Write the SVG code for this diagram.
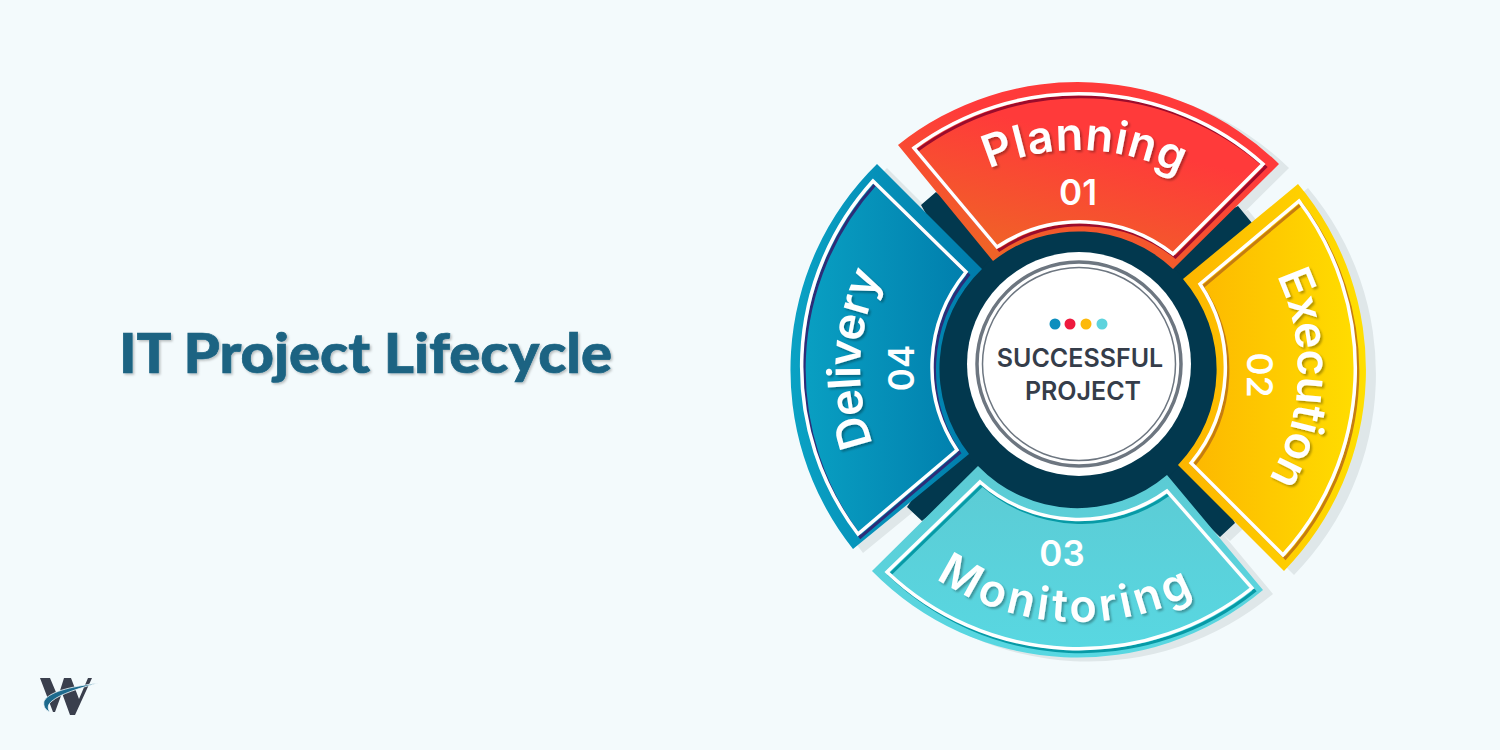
<svg xmlns="http://www.w3.org/2000/svg" width="1500" height="750" viewBox="0 0 1500 750">
<style>
.lab{font-family:"Inter","Noto Sans",sans-serif;font-weight:600;fill:#fff;font-size:45px;filter:url(#ts)}
.num{font-family:"Inter","Noto Sans",sans-serif;font-weight:600;fill:#fff;font-size:35px;text-anchor:middle}
.ctr{font-family:"Inter","Noto Sans",sans-serif;font-weight:600;fill:#353d4a;font-size:25px;text-anchor:middle}
.wl{fill:none;stroke:#fff;stroke-width:3.5;stroke-linejoin:miter}
.sl{fill:none;stroke-width:3;stroke-linejoin:miter}
</style>
<defs>
<filter id="ts" x="-20%" y="-20%" width="140%" height="140%"><feDropShadow dx="2" dy="2" stdDeviation="1.2" flood-color="#000" flood-opacity=".3"/></filter>
<filter id="tt" x="-5%" y="-20%" width="110%" height="140%"><feDropShadow dx="1.5" dy="1.5" stdDeviation="1.2" flood-color="#000" flood-opacity=".25"/></filter>
<linearGradient id="gP" gradientUnits="userSpaceOnUse" x1="1055" y1="262" x2="1085" y2="135"><stop offset="0" stop-color="#f06227"/><stop offset="1" stop-color="#ff3a3a"/></linearGradient>
<linearGradient id="gE" gradientUnits="userSpaceOnUse" x1="1180" y1="380" x2="1366" y2="380"><stop offset="0" stop-color="#fdb500"/><stop offset="1" stop-color="#ffdf00"/></linearGradient>
<linearGradient id="gM" gradientUnits="userSpaceOnUse" x1="1060" y1="470" x2="1060" y2="658"><stop offset="0" stop-color="#5ccbd4"/><stop offset="1" stop-color="#58d8e2"/></linearGradient>
<linearGradient id="gD" gradientUnits="userSpaceOnUse" x1="790" y1="360" x2="975" y2="360"><stop offset="0" stop-color="#0aa2c4"/><stop offset="1" stop-color="#007dac"/></linearGradient>
<path id="sP" d="M898 145A288 288 0 0 1 1279 164L1173 269A138 138 0 0 0 993 261Z"/>
<path id="sE" d="M1298 184A288 288 0 0 1 1284 571L1178 465A138 138 0 0 0 1183 279Z"/>
<path id="sM" d="M1263 590A288 288 0 0 1 872 571L978 466A138 138 0 0 0 1167 475Z"/>
<path id="sD" d="M853 549A288 288 0 0 1 877 164L982 269A138 138 0 0 0 969 454Z"/>
<path id="iP" d="M914 148A277 277 0 0 1 1263 164L1173 254A150 150 0 0 0 997 247Z"/>
<path id="iE" d="M1299 201A277 277 0 0 1 1283 555L1191 463A150 150 0 0 0 1200 284Z"/>
<path id="iM" d="M1252 588A278 278 0 0 1 887 572L980 482A150 150 0 0 0 1167 491Z"/>
<path id="iD" d="M858 534A277 277 0 0 1 873 181L966 272A150 150 0 0 0 957 450Z"/>
<path id="arms" d="M936 192L921 205L975 300L1030 270ZM1238 206L1252 223L1190 290L1150 250ZM1235 523L1220 537L1150 470L1190 440ZM907 507L922 521L1000 460L960 430Z"/>
<path id="tP" d="M858 370A220 220 0 0 1 1298 370"/>
<path id="tE" d="M1078 150A220 220 0 0 1 1078 590"/>
<path id="tM" d="M826 370A252 252 0 0 0 1330 370"/>
<path id="tD" d="M1078 588A218 218 0 0 1 1078 152"/>
</defs>
<rect width="1500" height="750" fill="#f3fafc"/>
<g id="title"><text x="119" y="373" textLength="493" lengthAdjust="spacingAndGlyphs" font-family="Lato,'Noto Sans',sans-serif" font-weight="900" font-size="56" fill="#1b6382" stroke="#1b6382" stroke-width=".7" filter="url(#tt)">IT Project Lifecycle</text></g>
<g id="shadow" fill="#dfe7e9" transform="translate(10 4)">
<use href="#sP"/><use href="#sE"/><use href="#sM"/><use href="#sD"/><use href="#arms"/>
</g>
<g id="hub-ring">
<use href="#arms" fill="#02384e"/>
<circle cx="1078" cy="370" r="140" fill="#02384e"/>
</g>
<g id="planning">
<use href="#sP" fill="url(#gP)"/>
<use href="#iP" class="sl" stroke="#9c0c2c" transform="translate(2.5 3)"/>
<use href="#iP" class="wl"/>
<text class="lab" letter-spacing="1"><textPath href="#tP" startOffset="51%" text-anchor="middle">Planning</textPath></text>
<text class="num" x="1078" y="205">01</text>
</g>
<g id="execution">
<use href="#sE" fill="url(#gE)"/>
<use href="#iE" class="sl" stroke="#c67d10" transform="translate(2.5 3)"/>
<use href="#iE" class="wl"/>
<text class="lab" letter-spacing="-.4"><textPath href="#tE" startOffset="51.2%" text-anchor="middle">Execution</textPath></text>
<text class="num" transform="translate(1247 375) rotate(90)">02</text>
</g>
<g id="monitoring">
<use href="#sM" fill="url(#gM)"/>
<use href="#iM" class="sl" stroke="#079aa6" transform="translate(2.5 3)"/>
<use href="#iM" class="wl"/>
<text class="lab" letter-spacing="3.8"><textPath href="#tM" startOffset="48.3%" text-anchor="middle">Monitoring</textPath></text>
<text class="num" x="1062" y="566">03</text>
</g>
<g id="delivery">
<use href="#sD" fill="url(#gD)"/>
<use href="#iD" class="sl" stroke="#2d2d78" transform="translate(2.5 3)"/>
<use href="#iD" class="wl"/>
<text class="lab" letter-spacing="-1"><textPath href="#tD" startOffset="51.5%" text-anchor="middle">Delivery</textPath></text>
<text class="num" transform="translate(914 368) rotate(-90)">04</text>
</g>
<g id="center">
<circle cx="1079" cy="364" r="112" fill="#fff"/>
<circle cx="1079" cy="364" r="102" fill="none" stroke="#6d7680" stroke-width="3.5"/>
<circle cx="1079" cy="364" r="96.5" fill="none" stroke="#6d7680" stroke-width="1.5"/>
<circle cx="1055" cy="324" r="5.5" fill="#0c8ebe"/>
<circle cx="1070" cy="324" r="5.5" fill="#ee1a3e"/>
<circle cx="1086" cy="324" r="5.5" fill="#fdb90b"/>
<circle cx="1102" cy="324" r="5.5" fill="#5dd3dd"/>
<text class="ctr" x="1080" y="367">SUCCESSFUL</text>
<text class="ctr" x="1083" y="400">PROJECT</text>
</g>
<g id="logo">
<path fill="#3a3f4d" d="M40 678H50L58 697L64 678H71L79 699L88 678H92L75 715H70L62 693L55 712H53Z"/>
<path fill="#1d6a8d" stroke="#f3fafc" stroke-width=".8" d="M98 683C78 686 50 690 44 701C43 706 45 710 50 712C47 708 48 704 52 701C60 694 80 688 98 683Z"/>
</g>
</svg>
